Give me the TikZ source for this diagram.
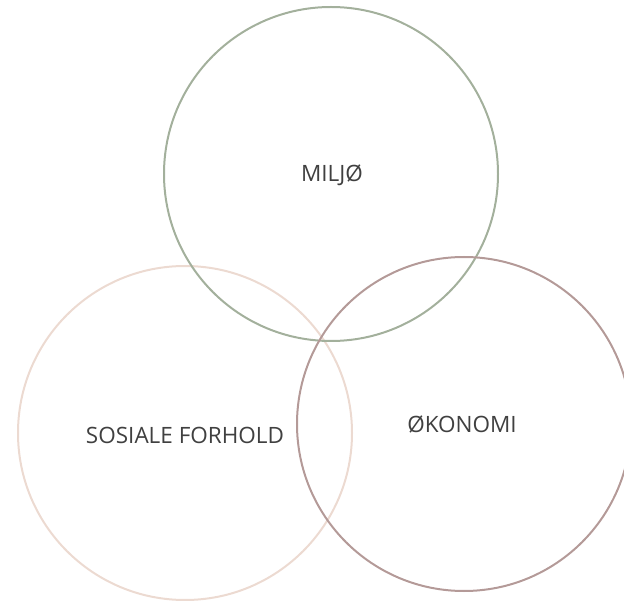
\documentclass[tikz,border=0pt]{standalone}
\usepackage{fontspec}
\setmainfont{Open Sans}
\begin{document}
\begin{tikzpicture}[x=1pt,y=-1pt,
  ring/.style={draw, line width=2pt, circle, minimum size=334pt, inner sep=0pt},
  label/.style={text=black!75, anchor=base, inner sep=0pt, font=\fontsize{22.5}{26}\selectfont}]
\useasboundingbox (0,0) rectangle (624,601);
\node[ring, draw={rgb,255:red,236;green,218;blue,209}] (sos) at (185,433) {};
\node[ring, draw={rgb,255:red,163;green,176;blue,156}] (milj) at (331,174) {};
\node[ring, draw={rgb,255:red,180;green,154;blue,152}] (oko) at (464,424) {};
\node[label] (tmilj) at (332,182) {MILJØ};
\node[label] (tsos) at (185,443) {SOSIALE FORHOLD};
\node[label] (toko) at (462,432) {ØKONOMI};
\end{tikzpicture}
\end{document}
